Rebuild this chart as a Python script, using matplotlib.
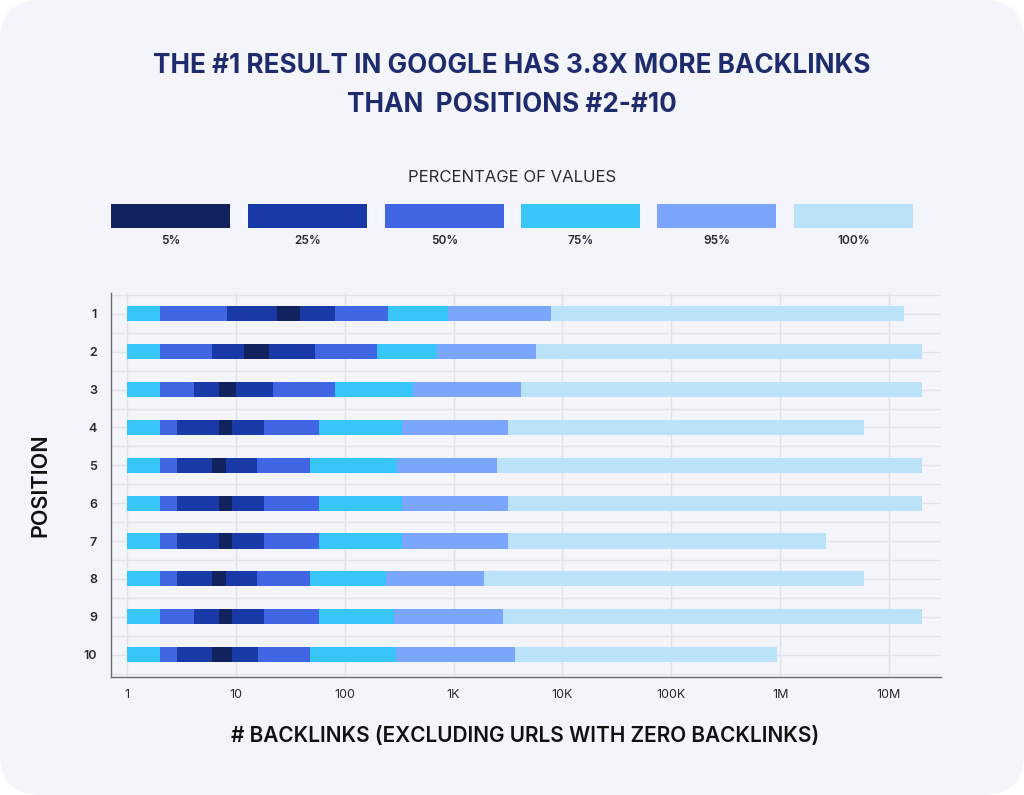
import matplotlib
matplotlib.use("Agg")
import matplotlib.pyplot as plt
from matplotlib.patches import FancyBboxPatch, Rectangle
from matplotlib.ticker import FixedLocator, NullFormatter

plt.rcParams['font.family'] = ['Inter', 'DejaVu Sans']

# ---------------- data ----------------
positions = [1, 2, 3, 4, 5, 6, 7, 8, 9, 10]
# segment boundaries (number of backlinks) for each position
b_min = [1, 1, 1, 1, 1, 1, 1, 1, 1, 1]
b_1 = [2, 2, 2, 2, 2, 2, 2, 2, 2, 2]
b_2 = [8.3, 6.0, 4.1, 2.9, 2.9, 2.9, 2.9, 2.9, 4.1, 2.9]
b_3 = [24, 12, 7.0, 7.0, 6.0, 7.0, 7.0, 6.0, 7.0, 6.0]
b_4 = [39, 20, 10, 9.2, 8.2, 9.2, 9.2, 8.2, 9.2, 9.2]
b_5 = [81, 53, 22, 18, 15.5, 18, 18, 15.5, 18, 16]
b_6 = [248, 199, 81, 58, 48, 58, 58, 48, 58, 48]
b_7 = [883, 700, 421, 336, 300, 336, 336, 239, 286, 298]
b_8 = [7860, 5760, 4170, 3160, 2490, 3160, 3160, 1905, 2845, 3670]
b_max = [1.37e7, 2.0e7, 2.0e7, 5.9e6, 2.0e7, 2.0e7, 2.64e6, 5.9e6, 2.0e7, 9.3e5]

legend_labels = ["5%", "25%", "50%", "75%", "95%", "100%"]
legend_colors = ["#11225E", "#1839A6", "#4066E4", "#38C5F8", "#7AA6FD", "#BAE2F8"]
segment_levels = ["75%", "50%", "25%", "5%", "25%", "50%", "75%", "95%", "100%"]

x_ticks = [1, 10, 100, 1e3, 1e4, 1e5, 1e6, 1e7]
x_ticklabels = ["1", "10", "100", "1K", "10K", "100K", "1M", "10M"]

# ---------------- figure ----------------
W, H = 1024, 795
fig = plt.figure(figsize=(W / 100, H / 100), dpi=100)
fig.patch.set_facecolor("white")
card = FancyBboxPatch((0, 0), 1, 1, boxstyle="round,pad=0,rounding_size=0.04",
                      transform=fig.transFigure, facecolor="#F4F5FA",
                      edgecolor="none", zorder=-10,
                      mutation_aspect=W / H)
fig.add_artist(card)

def fx(px):
    return px / W

def fy(py):
    return 1 - py / H

ax = fig.add_axes([fx(111), fy(677), fx(941) - fx(111), fy(293) - fy(677)])
ax.set_facecolor("none")

color_of = dict(zip(legend_labels, legend_colors))
bounds = [b_min, b_1, b_2, b_3, b_4, b_5, b_6, b_7, b_8, b_max]
for i, lvl in enumerate(segment_levels):
    lefts = bounds[i]
    rights = bounds[i + 1]
    widths = [r - l for l, r in zip(lefts, rights)]
    ax.barh(positions, widths, left=lefts, height=0.4,
            color=color_of[lvl], edgecolor="none", zorder=3)

ax.set_xscale("log")
ax.set_xlim(0.713, 3.0e7)
ax.set_ylim(10.59, 0.45)

ax.xaxis.set_major_locator(FixedLocator(x_ticks))
ax.set_xticklabels(x_ticklabels)
ax.xaxis.set_minor_formatter(NullFormatter())
ax.xaxis.set_minor_locator(FixedLocator([]))
ax.set_yticks(positions)
ax.set_yticklabels([str(p) for p in positions])
ax.set_yticks([p + 0.5 for p in range(0, 11)], minor=True)

ax.grid(True, which="major", axis="both", color="#E1E3EA", linewidth=1.0, zorder=0)
ax.grid(True, which="minor", axis="y", color="#E1E3EA", linewidth=1.0, zorder=0)
ax.set_axisbelow(True)

for s in ["top", "right"]:
    ax.spines[s].set_visible(False)
for s in ["left", "bottom"]:
    ax.spines[s].set_color("#6B6E76")
    ax.spines[s].set_linewidth(1.0)

ax.tick_params(axis="both", which="both", length=0)
ax.tick_params(axis="x", pad=9, labelsize=9, labelcolor="#2A2A2A")
ax.tick_params(axis="y", pad=10, labelsize=9, labelcolor="#2A2A2A")
for lab in ax.get_yticklabels():
    lab.set_fontweight("semibold")

# titles
title_color = "#1E2C6E"
fig.text(0.5, fy(66), "THE #1 RESULT IN GOOGLE HAS 3.8X MORE BACKLINKS",
         ha="center", va="center", fontsize=18.8, fontweight="bold", color=title_color)
fig.text(0.5, fy(105), "THAN  POSITIONS #2-#10",
         ha="center", va="center", fontsize=18.8, fontweight="bold", color=title_color)

# legend
fig.text(0.5, fy(177), "PERCENTAGE OF VALUES", ha="center", va="center",
         fontsize=12, color="#2B2B2B")
leg_x = [111, 248, 385, 521, 657, 794]
for xp, lab, col in zip(leg_x, legend_labels, legend_colors):
    fig.add_artist(Rectangle((fx(xp), fy(228)), fx(119), 24 / H,
                             transform=fig.transFigure, facecolor=col, edgecolor="none"))
    fig.text(fx(xp + 59.5), fy(241), lab, ha="center", va="center",
             fontsize=8.5, fontweight="semibold", color="#2A2A2A")

# axis labels
fig.text(fx(525), fy(736), "# BACKLINKS (EXCLUDING URLS WITH ZERO BACKLINKS)",
         ha="center", va="center", fontsize=15, fontweight="semibold", color="#111111")
fig.text(fx(40), fy(485), "POSITION", ha="center", va="center", rotation=90,
         fontsize=15.5, fontweight="semibold", color="#111111")

fig.savefig("out.png", dpi=100, facecolor=fig.get_facecolor())
